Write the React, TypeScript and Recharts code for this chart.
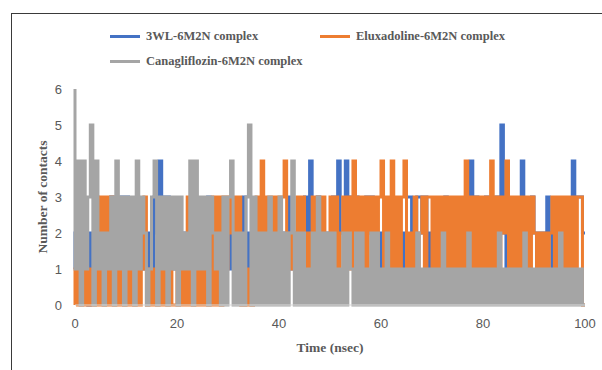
import { LineChart, Line, XAxis, YAxis } from 'recharts';

// sampling times (nsec)
const time = [
  0, 0.5, 1, 1.5, 2, 2.5, 3, 3.5, 4, 4.5, 5, 5.5, 6, 6.5, 7, 7.5, 8, 8.5, 9, 9.5,
  10, 10.5, 11, 11.5, 12, 12.5, 13, 13.5, 14, 14.5, 15, 15.5, 16, 16.5, 17, 17.5, 18, 18.5, 19, 19.5,
  20, 20.5, 21, 21.5, 22, 22.5, 23, 23.5, 24, 24.5, 25, 25.5, 26, 26.5, 27, 27.5, 28, 28.5, 29, 29.5,
  30, 30.5, 31, 31.5, 32, 32.5, 33, 33.5, 34, 34.5, 35, 35.5, 36, 36.5, 37, 37.5, 38, 38.5, 39, 39.5,
  40, 40.5, 41, 41.5, 42, 42.5, 43, 43.5, 44, 44.5, 45, 45.5, 46, 46.5, 47, 47.5, 48, 48.5, 49, 49.5,
  50, 50.5, 51, 51.5, 52, 52.5, 53, 53.5, 54, 54.5, 55, 55.5, 56, 56.5, 57, 57.5, 58, 58.5, 59, 59.5,
  60, 60.5, 61, 61.5, 62, 62.5, 63, 63.5, 64, 64.5, 65, 65.5, 66, 66.5, 67, 67.5, 68, 68.5, 69, 69.5,
  70, 70.5, 71, 71.5, 72, 72.5, 73, 73.5, 74, 74.5, 75, 75.5, 76, 76.5, 77, 77.5, 78, 78.5, 79, 79.5,
  80, 80.5, 81, 81.5, 82, 82.5, 83, 83.5, 84, 84.5, 85, 85.5, 86, 86.5, 87, 87.5, 88, 88.5, 89, 89.5,
  90, 90.5, 91, 91.5, 92, 92.5, 93, 93.5, 94, 94.5, 95, 95.5, 96, 96.5, 97, 97.5, 98, 98.5, 99, 99.5,
  100,
];

const wl3 = [
  1, 2, 1, 3, 1, 2, 0, 2, 1, 3, 1, 2, 1, 2, 1, 3, 1, 2, 1, 3,
  1, 3, 2, 1, 2, 1, 2, 1, 2, 1, 2, 1, 3, 2, 4, 2, 3, 3, 2, 1,
  2, 1, 2, 1, 2, 1, 2, 1, 2, 1, 2, 1, 2, 3, 1, 2, 1, 2, 1, 2,
  1, 2, 1, 2, 1, 2, 1, 3, 1, 2, 1, 2, 1, 2, 1, 2, 1, 2, 1, 2,
  1, 2, 1, 2, 1, 3, 1, 2, 1, 2, 1, 3, 2, 4, 1, 2, 3, 1, 2, 1,
  2, 1, 3, 2, 4, 2, 2, 4, 2, 3, 2, 3, 1, 2, 1, 3, 2, 3, 1, 2,
  1, 2, 1, 2, 1, 2, 1, 2, 1, 2, 1, 3, 3, 2, 2, 3, 3, 2, 3, 2,
  1, 2, 1, 2, 1, 2, 3, 2, 1, 2, 1, 2, 1, 2, 1, 2, 4, 2, 3, 2,
  1, 2, 3, 2, 1, 2, 3, 2, 5, 2, 1, 2, 1, 2, 1, 2, 4, 2, 1, 2,
  3, 2, 1, 2, 1, 2, 3, 2, 1, 2, 1, 2, 1, 2, 1, 2, 4, 3, 3, 3,
  2,
];

const eluxadoline = [
  0, 1, 0, 1, 0, 1, 0, 1, 0, 1, 0, 3, 0, 3, 0, 3, 0, 1, 0, 1,
  0, 1, 0, 1, 0, 1, 0, 1, 3, 0, 1, 0, 1, 0, 1, 0, 1, 0, 1, 0,
  0, 1, 0, 1, 0, 3, 0, 1, 0, 1, 0, 1, 0, 1, 0, 3, 0, 3, 0, 3,
  1, 3, 2, 3, 1, 3, 0, 1, 0, 1, 0, 1, 3, 1, 4, 2, 3, 1, 3, 2,
  3, 1, 3, 4, 1, 2, 1, 2, 3, 1, 3, 1, 2, 1, 3, 1, 3, 1, 3, 1,
  1, 3, 1, 3, 1, 2, 3, 1, 3, 1, 4, 1, 3, 1, 3, 1, 3, 2, 3, 1,
  3, 4, 1, 3, 1, 4, 1, 3, 1, 3, 4, 1, 2, 1, 3, 1, 2, 3, 1, 3,
  3, 1, 3, 1, 3, 2, 3, 1, 3, 1, 3, 1, 3, 1, 4, 1, 3, 1, 3, 1,
  3, 1, 3, 1, 4, 1, 3, 1, 3, 2, 4, 1, 3, 1, 3, 1, 3, 1, 3, 1,
  3, 2, 1, 2, 1, 2, 1, 2, 3, 1, 3, 1, 3, 1, 3, 1, 3, 1, 3, 3,
  0,
];

const canagliflozin = [
  6, 1, 4, 0, 4, 1, 3, 5, 0, 4, 1, 2, 0, 2, 1, 3, 0, 4, 1, 3,
  0, 3, 1, 3, 0, 4, 1, 3, 2, 0, 1, 3, 4, 0, 3, 1, 3, 0, 3, 1,
  3, 0, 3, 1, 2, 1, 4, 0, 4, 1, 3, 1, 3, 0, 3, 2, 1, 2, 0, 3,
  0, 3, 4, 0, 2, 0, 2, 0, 3, 5, 0, 3, 0, 2, 0, 2, 0, 3, 0, 2,
  0, 3, 0, 2, 0, 2, 4, 0, 2, 0, 2, 0, 1, 0, 2, 0, 3, 0, 2, 0,
  2, 0, 2, 0, 1, 0, 2, 0, 2, 1, 0, 2, 0, 2, 0, 1, 0, 2, 0, 2,
  0, 1, 0, 2, 0, 1, 0, 1, 0, 1, 0, 1, 0, 1, 0, 2, 0, 1, 0, 1,
  0, 1, 0, 1, 0, 2, 0, 1, 0, 1, 0, 1, 0, 1, 0, 2, 0, 1, 0, 1,
  0, 1, 0, 1, 0, 1, 0, 2, 0, 1, 0, 1, 0, 1, 0, 1, 0, 2, 0, 1,
  0, 1, 0, 1, 0, 1, 0, 1, 0, 1, 0, 2, 0, 1, 0, 1, 0, 1, 0, 1,
  0,
];

const xTicks = [0, 20, 40, 60, 80, 100];
const yTicks = [0, 1, 2, 3, 4, 5, 6];

const series = [
  { key: 'wl3', name: '3WL-6M2N complex', color: '#4472C4' },
  { key: 'elux', name: 'Eluxadoline-6M2N complex', color: '#ED7D31' },
  { key: 'cana', name: 'Canagliflozin-6M2N complex', color: '#A5A5A5' },
];

const data = time.map((t, i) => ({
  t,
  wl3: wl3[i],
  elux: eluxadoline[i],
  cana: canagliflozin[i],
}));

const serif = '"Liberation Serif", "Times New Roman", serif';
const tickStyle = { fontSize: 13, fill: '#595959', fontFamily: '"Liberation Sans", Arial, sans-serif' };

// legend spots, same as the excel layout
const legendPos = [
  { left: 110, top: 36 },
  { left: 320, top: 36 },
  { left: 110, top: 61 },
];

export default function App() {
  return (
    <div style={{ position: 'absolute', left: 0, top: 0, width: 602, height: 370, overflow: 'hidden', background: '#fff' }}>
      <div
        style={{
          position: 'absolute',
          left: 11,
          top: 13,
          width: 640,
          height: 420,
          border: '1px solid #3a3a3a',
        }}
      />
      {series.map((s, i) => (
        <div key={s.key} style={{ position: 'absolute', left: legendPos[i].left, top: legendPos[i].top - 8, height: 16, display: 'flex', alignItems: 'center' }}>
          <div style={{ width: 30, height: 3, background: s.color, marginRight: 6 }} />
          <span style={{ fontFamily: serif, fontWeight: 700, fontSize: 12.5, color: '#595959', whiteSpace: 'nowrap' }}>{s.name}</span>
        </div>
      ))}
      <LineChart
        width={602}
        height={370}
        data={data}
        margin={{ top: 89, right: 17, bottom: 0, left: 0 }}
        style={{ position: 'absolute', left: 0, top: 0 }}
      >
        <XAxis
          dataKey="t"
          type="number"
          domain={[0, 100]}
          ticks={xTicks}
          height={65}
          tickLine={false}
          tickSize={0}
          tickMargin={14}
          axisLine={{ stroke: '#D9D9D9' }}
          tick={tickStyle}
          label={{
            value: 'Time (nsec)',
            position: 'insideBottom',
            offset: 18,
            style: { fontFamily: serif, fontWeight: 700, fontSize: 13.5, fill: '#595959' },
          }}
        />
        <YAxis
          domain={[0, 6]}
          ticks={yTicks}
          interval={0}
          width={75}
          tickLine={false}
          tickSize={0}
          tickMargin={13}
          axisLine={false}
          tick={tickStyle}
          label={{
            value: 'Number of contacts',
            angle: -90,
            position: 'center',
            dx: 5,
            style: { fontFamily: serif, fontWeight: 700, fontSize: 13.5, fill: '#595959', textAnchor: 'middle' },
          }}
        />
        {series.map((s) => (
          <Line
            key={s.key}
            dataKey={s.key}
            name={s.name}
            type="stepBefore"
            stroke={s.color}
            strokeWidth={3}
            dot={false}
            isAnimationActive={false}
          />
        ))}
      </LineChart>
    </div>
  );
}
